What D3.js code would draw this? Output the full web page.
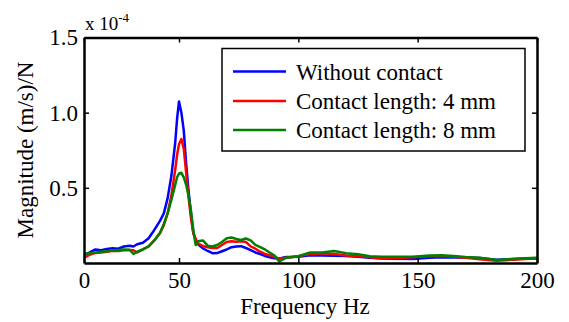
<!DOCTYPE html>
<html>
<head>
<script src="https://cdn.jsdelivr.net/npm/d3@7"></script>
</head>
<body style="margin:0">
<div id="container"></div>
<script>
// frequency grid (Hz)
let freqs = [0, 3, 6, 9, 12, 15, 18, 21, 24, 26, 28, 31, 34, 37, 40, 42, 44, 46, 48, 49,
  50, 51, 52, 53, 54, 55, 56, 57, 58, 60, 62, 64, 66, 68, 70, 72, 74, 76, 78, 80,
  82, 84, 86, 88, 90, 92, 95, 100, 105, 110, 115, 120, 125, 130, 135, 140, 148, 155, 160, 165,
  170, 176, 183, 190, 195, 200];

// magnitudes in units of 1e-4 (m/s)/N
let withoutContact = [0.053, 0.07, 0.09, 0.085, 0.093, 0.098, 0.095, 0.11, 0.115, 0.11, 0.125, 0.135, 0.165, 0.22, 0.28, 0.33, 0.43, 0.58, 0.8, 0.96,
  1.075, 1.0, 0.88, 0.66, 0.48, 0.33, 0.2, 0.15, 0.125, 0.098, 0.08, 0.065, 0.066, 0.078, 0.09, 0.105, 0.11, 0.112, 0.1, 0.085,
  0.07, 0.06, 0.047, 0.038, 0.032, 0.03, 0.04, 0.042, 0.052, 0.05, 0.048, 0.047, 0.042, 0.035, 0.03, 0.028, 0.027, 0.035, 0.038, 0.037,
  0.036, 0.034, 0.022, 0.026, 0.03, 0.03];

let contact4 = [0.033, 0.055, 0.067, 0.07, 0.075, 0.082, 0.08, 0.085, 0.087, 0.085, 0.07, 0.09, 0.11, 0.15, 0.2, 0.25, 0.33, 0.45, 0.62, 0.72,
  0.79, 0.825, 0.76, 0.6, 0.44, 0.3, 0.2, 0.16, 0.13, 0.113, 0.105, 0.1, 0.1, 0.12, 0.14, 0.145, 0.142, 0.145, 0.14, 0.11,
  0.095, 0.075, 0.06, 0.052, 0.04, 0.03, 0.035, 0.045, 0.06, 0.065, 0.06, 0.05, 0.045, 0.038, 0.03, 0.033, 0.038, 0.045, 0.046, 0.042,
  0.035, 0.025, 0.015, 0.022, 0.027, 0.03];

let contact8 = [0.06, 0.065, 0.07, 0.075, 0.078, 0.083, 0.087, 0.09, 0.088, 0.06, 0.075, 0.09, 0.11, 0.15, 0.2, 0.26, 0.33, 0.42, 0.52, 0.57,
  0.595, 0.6, 0.57, 0.52, 0.45, 0.35, 0.22, 0.12, 0.145, 0.15, 0.115, 0.11, 0.12, 0.14, 0.165, 0.17, 0.16, 0.153, 0.163, 0.15,
  0.12, 0.105, 0.09, 0.07, 0.05, 0.01, 0.035, 0.045, 0.07, 0.07, 0.08, 0.065, 0.058, 0.045, 0.042, 0.042, 0.042, 0.05, 0.052, 0.047,
  0.04, 0.035, 0.02, 0.027, 0.032, 0.035];

let seriesNames = ["Without contact", "Contact length: 4 mm", "Contact length: 8 mm"];
let seriesColors = ["#0000ff", "#ff0000", "#008000"];
let seriesValues = [withoutContact, contact4, contact8];

let xTicks = [0, 50, 100, 150, 200];
let yTicks = [0.5, 1.0, 1.5];

let w = 569;
let h = 322;
let plotLeft = 84, plotRight = 537, plotTop = 37.5, plotBottom = 263;
let serifFont = "'Liberation Serif'";

let viz = d3.select("#container")
  .append("svg")
    .attr("width", w)
    .attr("height", h)
    .style("display", "block")
    .style("font-family", serifFont);

// the x axis in the picture is stretched between 0 and 50
let xScale = d3.scaleLinear().domain([0, 50, 200]).range([plotLeft, 179, plotRight]);
let yScale = d3.scaleLinear().domain([0, 1.5]).range([plotBottom, plotTop]);

// lines
let line = d3.line()
  .x(function(d, i){ return xScale(freqs[i]); })
  .y(function(d){ return yScale(d); });

for (let s = 0; s < seriesValues.length; s++) {
  viz.append("path")
    .attr("d", line(seriesValues[s]))
    .attr("fill", "none")
    .attr("stroke", seriesColors[s])
    .attr("stroke-width", 2.5)
    .attr("stroke-linejoin", "round");
}

// axes: ticks inward on all four sides
let tickLen = 5;
let xAxisB = d3.axisBottom(xScale).tickValues(xTicks).tickSizeInner(-tickLen).tickSizeOuter(0).tickPadding(12).tickFormat(d3.format("d"));
let xAxisT = d3.axisTop(xScale).tickValues(xTicks).tickSizeInner(-tickLen).tickSizeOuter(0).tickFormat("");
let yAxisL = d3.axisLeft(yScale).tickValues(yTicks).tickSizeInner(-tickLen).tickSizeOuter(0).tickPadding(6).tickFormat(d3.format(".1f"));
let yAxisR = d3.axisRight(yScale).tickValues(yTicks).tickSizeInner(-tickLen).tickSizeOuter(0).tickFormat("");

let gB = viz.append("g").attr("transform", "translate(0," + plotBottom + ")").call(xAxisB);
let gT = viz.append("g").attr("transform", "translate(0," + plotTop + ")").call(xAxisT);
let gL = viz.append("g").attr("transform", "translate(" + plotLeft + ",0)").call(yAxisL);
let gR = viz.append("g").attr("transform", "translate(" + plotRight + ",0)").call(yAxisR);

[gB, gT, gL, gR].forEach(function(g){
  g.attr("font-family", null).style("font-family", serifFont);
  g.select(".domain").attr("stroke", "black").attr("stroke-width", 2.5);
  g.selectAll(".tick line").attr("stroke", "black").attr("stroke-width", 1.5);
  g.selectAll(".tick text")
    .attr("fill", "black")
    .style("font-family", serifFont)
    .attr("font-size", 23);
});
gB.selectAll(".tick text").attr("dy", "0.71em").attr("y", 9);

// exponent label
let expo = viz.append("text")
  .attr("x", 85)
  .attr("y", 30)
  .style("font-family", serifFont)
  .attr("font-size", 19)
  .attr("fill", "black");
expo.append("tspan").text("x 10");
expo.append("tspan").text("-4").attr("font-size", 13).attr("dy", -8);

// axis titles
viz.append("text")
  .text("Frequency Hz")
  .attr("x", 305)
  .attr("y", 314)
  .attr("text-anchor", "middle")
  .style("font-family", serifFont)
  .attr("font-size", 23)
  .attr("fill", "black");

viz.append("text")
  .text("Magnitude (m/s)/N")
  .attr("transform", "translate(33,150) rotate(-90)")
  .attr("text-anchor", "middle")
  .style("font-family", serifFont)
  .attr("font-size", 23)
  .attr("fill", "black");

// legend
viz.append("rect")
  .attr("x", 222)
  .attr("y", 48.5)
  .attr("width", 303)
  .attr("height", 102.5)
  .attr("fill", "white")
  .attr("stroke", "black")
  .attr("stroke-width", 1.5);

let legendY = [71.5, 101, 130];
for (let i = 0; i < seriesNames.length; i++) {
  viz.append("line")
    .attr("x1", 233)
    .attr("x2", 286)
    .attr("y1", legendY[i])
    .attr("y2", legendY[i])
    .attr("stroke", seriesColors[i])
    .attr("stroke-width", 2.5);
  viz.append("text")
    .text(seriesNames[i])
    .attr("x", 296)
    .attr("y", legendY[i])
    .attr("dy", "0.35em")
    .style("font-family", serifFont)
    .attr("font-size", 23)
    .attr("fill", "black");
}
</script>
</body>
</html>
